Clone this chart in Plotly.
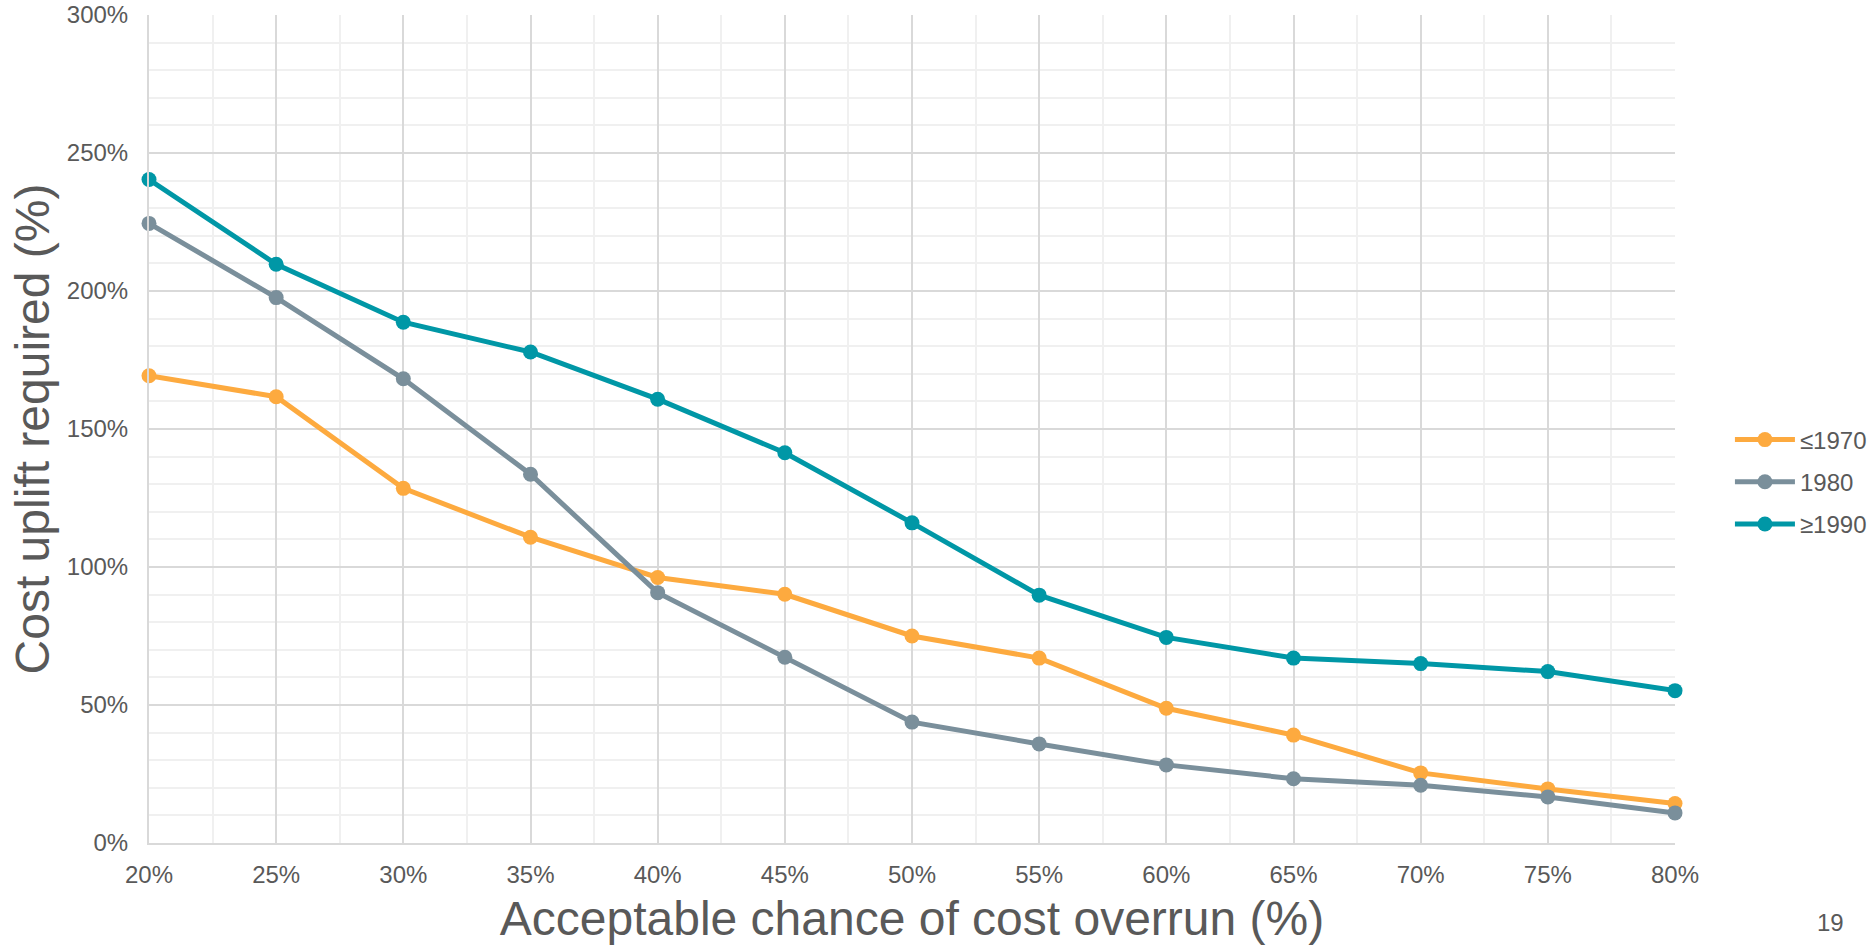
import plotly.graph_objects as go

# Acceptable chance of cost overrun (%)
overrun_chance = [20, 25, 30, 35, 40, 45, 50, 55, 60, 65, 70, 75, 80]

# Cost uplift required (%) by period
uplift_1970 = [169.3, 161.7, 128.5, 110.8, 96.2, 90.1, 75.0, 67.0, 48.8, 39.1, 25.4, 19.6, 14.3]
uplift_1980 = [224.5, 197.6, 168.2, 133.6, 90.7, 67.3, 43.8, 35.9, 28.3, 23.3, 20.9, 16.7, 10.9]
uplift_1990 = [240.4, 209.7, 188.7, 177.9, 160.8, 141.4, 116.0, 89.8, 74.5, 67.0, 65.0, 62.1, 55.2]

series_names = ["≤1970", "1980", "≥1990"]
series_colors = ["#FDAA3F", "#7A8F9B", "#0097A6"]

FONT = "Liberation Sans, Arial, sans-serif"
TEXT = "#595959"
MAJOR = "#D9D9D9"
MINOR = "#F0F0F0"

fig = go.Figure()
for name, vals, col in zip(series_names, [uplift_1970, uplift_1980, uplift_1990], series_colors):
    fig.add_trace(go.Scatter(
        x=overrun_chance, y=vals, name=name, legendgroup=name,
        mode="lines+markers",
        line=dict(color=col, width=5),
        marker=dict(color=col, size=15),
        cliponaxis=False,
    ))

fig.update_layout(
    width=1868, height=947,
    margin=dict(l=149, r=193, t=15, b=104, autoexpand=False),
    paper_bgcolor="white", plot_bgcolor="white",
    font=dict(family=FONT, color=TEXT, size=24),
    showlegend=True,
    legend=dict(x=1.036, y=0.436, xanchor="left", yanchor="middle",
                font=dict(size=24, color=TEXT), itemwidth=60,
                tracegroupgap=8, bgcolor="rgba(0,0,0,0)"),
)

fig.update_xaxes(
    range=[20, 80], tickmode="array", tickvals=overrun_chance,
    ticktext=[f"{v}%" for v in overrun_chance],
    tickfont=dict(size=24, color=TEXT),
    ticks="outside", ticklen=9, tickcolor="rgba(0,0,0,0)",
    showgrid=True, gridcolor=MAJOR, gridwidth=1.7,
    minor=dict(dtick=2.5, tick0=20, showgrid=True, gridcolor=MINOR, gridwidth=1.7),
    showline=True, linecolor=MAJOR, linewidth=2, mirror=False,
    zeroline=False, automargin=False,
    title=dict(text="Acceptable chance of cost overrun (%)",
               font=dict(size=48, color=TEXT), standoff=15),
)

fig.update_yaxes(
    range=[0, 300], dtick=50, ticksuffix="%",
    tickfont=dict(size=24, color=TEXT),
    ticks="outside", ticklen=14, tickcolor="rgba(0,0,0,0)",
    showgrid=True, gridcolor=MAJOR, gridwidth=1.7,
    minor=dict(dtick=10, showgrid=True, gridcolor=MINOR, gridwidth=1.7),
    showline=True, linecolor=MAJOR, linewidth=2,
    zeroline=False, automargin=False,
    title=dict(text="Cost uplift required (%)",
               font=dict(size=48, color=TEXT), standoff=2),
)

# page number
fig.add_annotation(text="19", xref="paper", yref="paper", x=1.102, y=-0.0966,
                   xanchor="center", yanchor="middle", showarrow=False,
                   font=dict(size=24, color=TEXT))

fig.write_html("out.html")
